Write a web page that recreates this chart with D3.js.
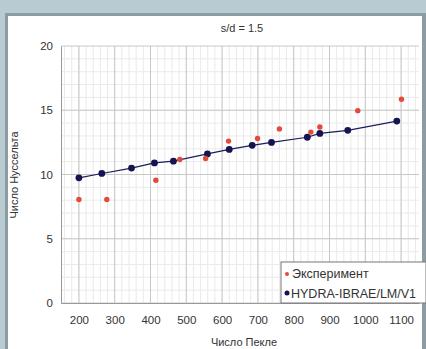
<!DOCTYPE html>
<html>
<head>
<meta charset="utf-8">
<script src="https://cdn.jsdelivr.net/npm/d3@7"></script>
<style>
  body { margin: 0; background: #b8cad2; }
  svg { display: block; }
  text { font-family: "Liberation Sans", Arial, sans-serif; fill: #333; }
</style>
</head>
<body>
<svg id="chart" width="426" height="349"></svg>
<script>
// данные
var expPe = [200, 278, 415, 482, 554, 618, 699, 760, 848, 873, 979, 1101];
var expNu = [8.05, 8.05, 9.55, 11.17, 11.25, 12.6, 12.8, 13.55, 13.3, 13.7, 14.97, 15.86];

var hydraPe = [200, 264, 347, 411, 464, 559, 620, 684, 738, 838, 873, 951, 1088];
var hydraNu = [9.74, 10.08, 10.5, 10.9, 11.04, 11.6, 11.95, 12.27, 12.5, 12.9, 13.2, 13.44, 14.16];

var xTicks = [200, 300, 400, 500, 600, 700, 800, 900, 1000, 1100];
var yTicks = [0, 5, 10, 15, 20];

var svg = d3.select("#chart");

// рамка слайда
svg.append("rect").attr("x", 5).attr("y", 13).attr("width", 421).attr("height", 336).attr("fill", "#8d9ca2");
svg.append("rect").attr("x", 8).attr("y", 16).attr("width", 414).attr("height", 333).attr("fill", "#fff");

var x = d3.scaleLinear().domain([150, 1150]).range([61, 419]);
var y = d3.scaleLinear().domain([0, 20]).range([303, 46]);

var g = svg.append("g");

// мелкая сетка
g.selectAll("line.mx").data(d3.range(160, 1150, 20)).enter().append("line")
    .attr("x1", x).attr("x2", x).attr("y1", y(0)).attr("y2", y(20))
    .attr("stroke", "#eaeaea").attr("stroke-width", 1);
g.selectAll("line.my").data(d3.range(1, 20, 1)).enter().append("line")
    .attr("x1", x(150)).attr("x2", x(1150)).attr("y1", y).attr("y2", y)
    .attr("stroke", "#eaeaea").attr("stroke-width", 1);

// основная сетка
g.selectAll("line.gx").data(xTicks).enter().append("line")
    .attr("x1", x).attr("x2", x).attr("y1", y(0)).attr("y2", y(20))
    .attr("stroke", "#c8c8c8").attr("stroke-width", 1);
g.selectAll("line.gy").data(yTicks).enter().append("line")
    .attr("x1", x(150)).attr("x2", x(1150)).attr("y1", y).attr("y2", y)
    .attr("stroke", "#c8c8c8").attr("stroke-width", 1);

// оси
var xAxis = svg.append("g").attr("transform", "translate(0," + y(0) + ")")
    .call(d3.axisBottom(x).tickValues(xTicks).tickFormat(d3.format("d")).tickSize(0).tickPadding(13));
var yAxis = svg.append("g").attr("transform", "translate(" + x(150) + ",0)")
    .call(d3.axisLeft(y).tickValues(yTicks).tickSize(0).tickPadding(8));
[xAxis, yAxis].forEach(function(a) {
  a.select(".domain").attr("stroke", "#999");
  a.selectAll("text").attr("font-size", 11.5).attr("fill", "#444")
    .attr("font-family", "Liberation Sans, Arial, sans-serif");
});

// линия расчёта
var line = d3.line()
    .x(function(d, i) { return x(hydraPe[i]); })
    .y(function(d, i) { return y(hydraNu[i]); });
svg.append("path").datum(hydraPe).attr("d", line)
    .attr("fill", "none").attr("stroke", "#1c1c5e").attr("stroke-width", 1.2);

svg.selectAll("circle.h").data(hydraPe).enter().append("circle")
    .attr("cx", function(d) { return x(d); })
    .attr("cy", function(d, i) { return y(hydraNu[i]); })
    .attr("r", 3.4).attr("fill", "#141450");

svg.selectAll("circle.e").data(expPe).enter().append("circle")
    .attr("cx", function(d) { return x(d); })
    .attr("cy", function(d, i) { return y(expNu[i]); })
    .attr("r", 2.7).attr("fill", "#e24a3c");

// заголовки
svg.append("text").attr("x", 242).attr("y", 32).attr("text-anchor", "middle")
    .attr("font-size", 11).text("s/d = 1.5");
svg.append("text").attr("x", 244).attr("y", 346).attr("text-anchor", "middle")
    .attr("font-size", 11).text("Число Пекле");
svg.append("text").attr("transform", "translate(18,175) rotate(-90)")
    .attr("text-anchor", "middle").attr("font-size", 11).text("Число Нуссельта");

// легенда
var leg = svg.append("g");
leg.append("rect").attr("x", 281).attr("y", 262).attr("width", 145).attr("height", 41)
    .attr("fill", "#fff").attr("stroke", "#777");
leg.append("circle").attr("cx", 287).attr("cy", 274).attr("r", 2).attr("fill", "#e24a3c");
leg.append("text").attr("x", 292).attr("y", 278).attr("font-size", 12.5).text("Эксперимент");
leg.append("circle").attr("cx", 287).attr("cy", 293).attr("r", 2.5).attr("fill", "#141450");
leg.append("text").attr("x", 291).attr("y", 297.5).attr("font-size", 12.5).text("HYDRA-IBRAE/LM/V1");
</script>
</body>
</html>
